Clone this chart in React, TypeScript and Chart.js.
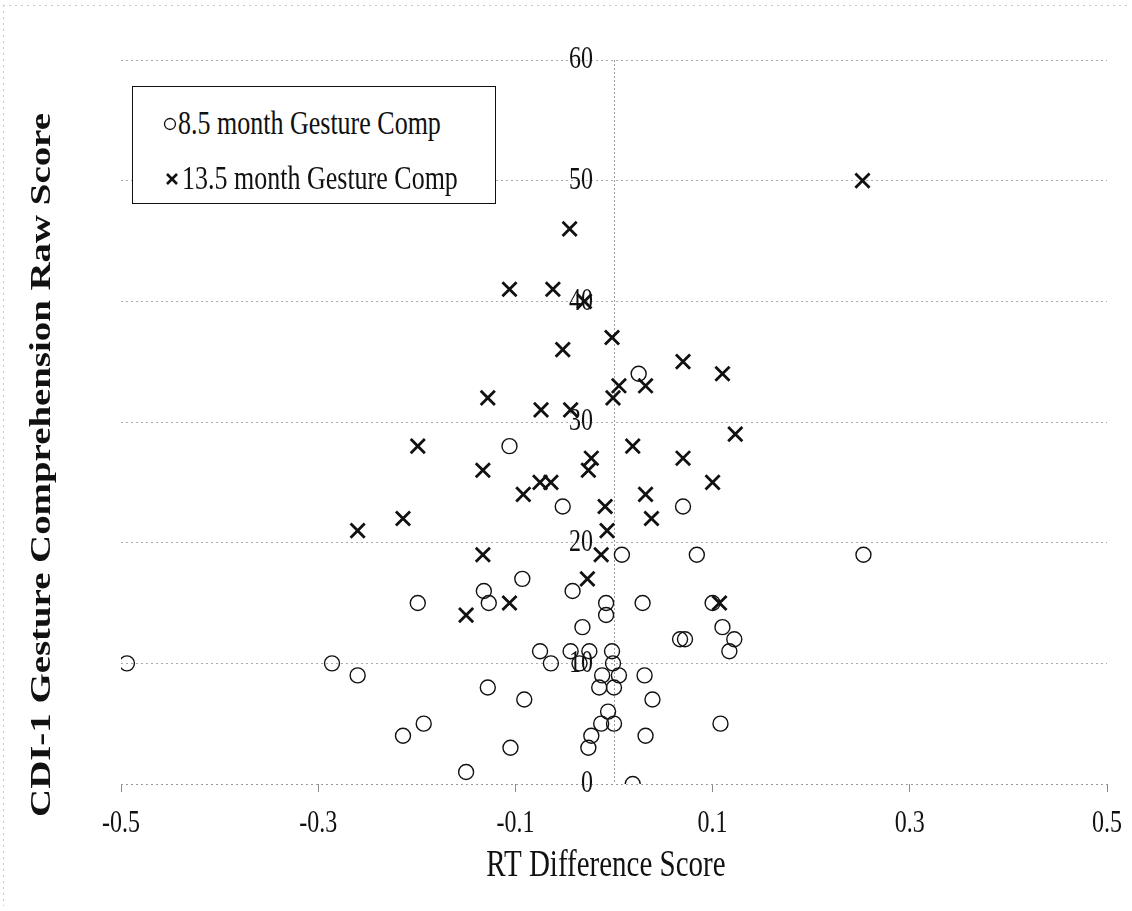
import React, { useEffect, useRef } from 'react';
import { Chart, registerables } from 'chart.js';

Chart.register(...registerables);

// ---- data ----
const seriesNames = ['8.5 month Gesture Comp', '13.5 month Gesture Comp'];

const rt85 = [
  -0.494, -0.286, -0.26, -0.199, -0.193, -0.214, -0.15, -0.132, -0.127, -0.128,
  -0.106, -0.105, -0.093, -0.091, -0.075, -0.064, -0.052, -0.042, -0.044, -0.035,
  -0.032, -0.025, -0.026, -0.023, -0.012, -0.015, -0.013, -0.008, -0.008, -0.006,
  -0.002, -0.001, 0.0, 0.0, 0.005, 0.008, 0.019, 0.025, 0.029, 0.031,
  0.032, 0.039, 0.07, 0.084, 0.253, 0.1, 0.067, 0.072, 0.11, 0.122,
  0.117, 0.108,
];
const score85 = [
  10, 10, 9, 15, 5, 4, 1, 16, 15, 8,
  28, 3, 17, 7, 11, 10, 23, 16, 11, 10,
  13, 11, 3, 4, 9, 8, 5, 14, 15, 6,
  11, 10, 8, 5, 9, 19, 0, 34, 15, 9,
  4, 7, 23, 19, 19, 15, 12, 12, 13, 12,
  11, 5,
];

const rt135 = [
  0.252, -0.045, -0.106, -0.062, -0.03, -0.002, -0.052, 0.07, 0.11, 0.005,
  0.032, -0.001, -0.128, -0.074, -0.044, 0.123, -0.199, 0.019, -0.023, 0.07,
  -0.026, -0.133, -0.075, -0.064, 0.1, -0.092, 0.032, -0.214, -0.009, 0.038,
  -0.007, -0.26, -0.133, -0.013, -0.027, -0.15, -0.106, 0.107,
];
const score135 = [
  50, 46, 41, 41, 40, 37, 36, 35, 34, 33,
  33, 32, 32, 31, 31, 29, 28, 28, 27, 27,
  26, 26, 25, 25, 25, 24, 24, 22, 23, 22,
  21, 21, 19, 19, 17, 14, 15, 15,
];

const xTickValues = [-0.5, -0.3, -0.1, 0.1, 0.3, 0.5];
const xTickLabels = ['-0.5', '-0.3', '-0.1', '0.1', '0.3', '0.5'];
const yTickValues = [0, 10, 20, 30, 40, 50, 60];
const yTickLabels = ['0', '10', '20', '30', '40', '50', '60'];
const xTitle = 'RT Difference Score';
const yTitle = 'CDI-1 Gesture Comprehension Raw Score';

const W = 1132;
const H = 911;
const FONT = '"Liberation Serif", "Times New Roman", serif';
const STRETCH = 1.3;
const INK = '#111111';
const AXIS_GREY = '#9a9a9a';

const textPlugin = {
  id: 'stretchedTexts',
  afterDraw(chart: any) {
    const { ctx, chartArea } = chart;
    const xs = chart.scales.x;
    const ys = chart.scales.y;
    const draw = (
      text: string, px: number, py: number, align: CanvasTextAlign,
      font: string, sx: number, sy: number, rot = 0,
    ) => {
      ctx.save();
      ctx.translate(px, py);
      if (rot) ctx.rotate(rot);
      ctx.scale(sx, sy);
      ctx.font = font;
      ctx.textAlign = align;
      ctx.textBaseline = 'middle';
      ctx.fillStyle = INK;
      ctx.fillText(text, 0, 0);
      ctx.restore();
    };
    // x tick labels
    xTickValues.forEach((v, i) => {
      draw(xTickLabels[i], xs.getPixelForValue(v), chartArea.bottom + 40, 'center', `24px ${FONT}`, 1, STRETCH);
    });
    // y tick labels, next to the axis drawn at x = 0
    const x0 = xs.getPixelForValue(0);
    yTickValues.forEach((v, i) => {
      draw(yTickLabels[i], x0 - 21, ys.getPixelForValue(v), 'right', `24px ${FONT}`, 1, STRETCH);
    });
    // axis titles
    draw(xTitle, (chartArea.left + chartArea.right) / 2 - 8, chartArea.bottom + 82, 'center', `29px ${FONT}`, 1, STRETCH);
    draw(yTitle, 43, (chartArea.top + chartArea.bottom) / 2 + 43, 'center', `bold 29px ${FONT}`, 1.34, 1, -Math.PI / 2);
    // faint outer frame (top and left)
    ctx.save();
    ctx.strokeStyle = '#c8c8c8';
    ctx.lineWidth = 1;
    ctx.setLineDash([2, 4]);
    ctx.beginPath();
    ctx.moveTo(3, 5.5);
    ctx.lineTo(W - 3, 5.5);
    ctx.moveTo(3.5, 5);
    ctx.lineTo(3.5, H - 5);
    ctx.stroke();
    ctx.restore();
  },
};

function CircleIcon() {
  return (
    <svg width="14" height="14" style={{ display: 'block' }}>
      <circle cx="7" cy="7" r="5.5" fill="none" stroke={INK} strokeWidth="1.3" />
    </svg>
  );
}
function CrossIcon() {
  return (
    <svg width="14" height="14" style={{ display: 'block' }}>
      <path d="M2 2 L12 12 M12 2 L2 12" stroke={INK} strokeWidth="2.6" />
    </svg>
  );
}

export default function App() {
  const canvasRef = useRef<HTMLCanvasElement | null>(null);

  useEffect(() => {
    const canvas = canvasRef.current;
    if (!canvas) return;
    const chart = new Chart(canvas, {
      type: 'scatter',
      data: {
        datasets: [
          {
            label: seriesNames[0],
            data: rt85.map((x, i) => ({ x, y: score85[i] })),
            pointStyle: 'circle',
            pointRadius: 7.5,
            borderColor: INK,
            borderWidth: 1.4,
            backgroundColor: 'rgba(0,0,0,0)',
          },
          {
            label: seriesNames[1],
            data: rt135.map((x, i) => ({ x, y: score135[i] })),
            pointStyle: 'crossRot',
            pointRadius: 10,
            borderColor: INK,
            borderWidth: 2.8,
            backgroundColor: INK,
          },
        ],
      },
      options: {
        responsive: false,
        animation: false,
        layout: { padding: { left: 121, right: W - 1107, top: 60, bottom: 0 } },
        plugins: { legend: { display: false }, tooltip: { enabled: false } },
        scales: {
          x: {
            type: 'linear',
            min: -0.5,
            max: 0.5,
            position: 'bottom',
            afterBuildTicks: (s: any) => {
              s.ticks = [...xTickValues, 0].sort((a, b) => a - b).map((v) => ({ value: v }));
            },
            afterFit: (s: any) => {
              s.height = H - 784;
            },
            ticks: { display: false, autoSkip: false },
            grid: {
              drawOnChartArea: true,
              color: (c: any) => (c.tick && c.tick.value === 0 ? AXIS_GREY : 'rgba(0,0,0,0)'),
              tickLength: 8,
              tickColor: (c: any) => (c.tick && c.tick.value === 0 ? 'rgba(0,0,0,0)' : '#8a8a8a'),
              lineWidth: 1,
            },
            border: { display: false, color: AXIS_GREY, width: 1, dash: [2, 2] },
          },
          y: {
            type: 'linear',
            min: 0,
            max: 60,
            position: { x: 0 } as any,
            afterBuildTicks: (s: any) => {
              s.ticks = yTickValues.map((v) => ({ value: v }));
            },
            ticks: { display: false },
            grid: {
              drawOnChartArea: true,
              color: (c: any) => (c.tick && c.tick.value === 0 ? AXIS_GREY : '#ababab'),
              lineWidth: 1,
              drawTicks: false,
            },
            border: { display: false, color: AXIS_GREY, width: 1, dash: [2, 3] },
          },
        },
      },
      plugins: [textPlugin],
    });
    return () => chart.destroy();
  }, []);

  const legendRow: React.CSSProperties = {
    position: 'absolute',
    left: 0,
    display: 'flex',
    alignItems: 'center',
    height: 40,
  };
  const legendText: React.CSSProperties = {
    fontFamily: FONT,
    fontSize: 26,
    color: INK,
    display: 'inline-block',
    transform: `scaleY(${STRETCH})`,
    whiteSpace: 'nowrap',
    lineHeight: '40px',
  };

  return (
    <div style={{ position: 'fixed', left: 0, top: 0, width: W, height: H, background: '#fff' }}>
      <canvas ref={canvasRef} width={W} height={H} style={{ display: 'block', width: W, height: H }} />
      <div
        style={{
          position: 'absolute',
          left: 132,
          top: 86,
          width: 364,
          height: 118,
          border: `1.5px solid ${INK}`,
          background: '#fff',
          boxSizing: 'border-box',
        }}
      >
        <div style={{ ...legendRow, top: 17, paddingLeft: 30 }}>
          <CircleIcon />
          <span style={{ ...legendText, marginLeft: 1 }}>{seriesNames[0]}</span>
        </div>
        <div style={{ ...legendRow, top: 72, paddingLeft: 32 }}>
          <CrossIcon />
          <span style={{ ...legendText, marginLeft: 3 }}>{seriesNames[1]}</span>
        </div>
      </div>
    </div>
  );
}
